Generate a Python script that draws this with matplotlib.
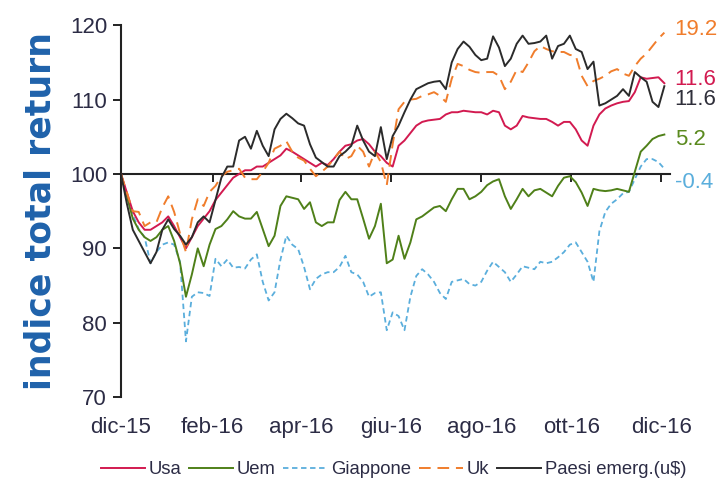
import numpy as np
import pandas as pd
import matplotlib
matplotlib.use("Agg")
import matplotlib.pyplot as plt

# Indici total return (base 100 = dic-15), un punto ogni 4 giorni
usa = [100, 97.5, 95, 93.5, 92.5, 92.5, 93, 93.5, 94.3, 93, 91.5, 90, 91.5, 93, 94, 95,
       96.5, 97.5, 98.5, 99.5, 100, 100.5, 100.5, 101, 101, 101.5, 102, 102.5, 103.4, 103,
       102.5, 102, 101.5, 101, 101.5, 101.2, 102, 103, 103.8, 104, 104.5, 104.7, 104, 103,
       102.4, 101.5, 101, 103.8, 104.5, 105.5, 106.5, 107, 107.2, 107.3, 107.4, 108, 108.3,
       108.3, 108.5, 108.4, 108.3, 108.3, 108, 108.5, 108.3, 106.5, 106, 106.5, 107.8, 107.6,
       107.5, 107.4, 107.4, 107, 106.5, 107, 107, 106, 104.5, 103.8, 106.5, 108, 108.8, 109.2,
       109.5, 109.7, 109.8, 111, 113, 112.8, 112.9, 113, 112.2]
uem = [100, 97, 94, 92.5, 91.5, 91, 91.5, 92.5, 93, 91, 88, 83.5, 86.5, 90, 87.6, 90.5,
       92.6, 93, 93.9, 95, 94.3, 94, 94, 94.9, 92.6, 90.3, 91.7, 95.7, 97, 96.8, 96.6, 95.3,
       96.2, 93.5, 93, 93.5, 93.5, 96.5, 97.6, 96.6, 96.6, 94, 91.3, 93, 96, 88, 88.5, 91.7,
       88.6, 90.8, 93.9, 94.3, 94.9, 95.5, 95.7, 95, 96.6, 98, 98, 96.6, 97, 97.6, 98.5, 99,
       99.3, 97, 95.3, 96.6, 98, 97, 97.8, 98, 97.5, 97, 98.4, 99.5, 99.7, 98.9, 97.5, 95.7,
       98, 97.8, 97.7, 97.8, 98, 97.8, 97.6, 100.3, 103, 103.8, 104.7, 105.1, 105.3]
giappone = [100, 97, 94.5, 92.6, 91.5, 88, 89.5, 90.5, 90.8, 90.5, 88.2, 77.5, 83.5, 84.1,
            84, 83.6, 88.6, 87.6, 88.5, 87.4, 87.5, 87.3, 88.5, 89.2, 85.5, 83, 84.1, 88.5,
            91.7, 90.5, 89.9, 87.5, 84.5, 85.9, 86.5, 86.8, 86.8, 87.5, 89, 86.8, 86.5, 85.5,
            83.5, 84, 84.1, 79, 81.4, 80.9, 79, 83.5, 86.3, 87.2, 86.5, 85.5, 84, 83.2, 85.5,
            85.7, 85.9, 85.2, 85, 85.5, 87, 88.2, 87.5, 86.8, 85.5, 86.5, 87.6, 87.4, 87.2,
            88.2, 88, 88.2, 88.8, 89.5, 90.5, 90.8, 89.5, 88.2, 85.5, 92.3, 94.9, 96, 96.6,
            97.4, 97.6, 99.3, 101, 102, 102, 101.6, 100.7]
uk = [100, 97.5, 95, 94.9, 93, 93.5, 93.5, 95.5, 97, 94.9, 92, 89.5, 93.9, 96.6, 95.7, 97.6,
      98.4, 99.7, 100.3, 100.5, 100.7, 99.5, 99.3, 99.3, 100.3, 101.5, 103.4, 103.8, 104.4,
      103, 102.2, 101.8, 100.7, 99.7, 100.3, 101, 102, 103, 102, 102.4, 103.8, 103, 101, 103,
      101.6, 98.5, 104, 108.7, 109.7, 110, 110.1, 110.5, 110.7, 111, 110.5, 109.7, 112.8,
      114.8, 114.5, 114, 113.7, 113.6, 113.7, 113.7, 113.2, 111.4, 112.4, 114, 113.7, 115,
      116.5, 117.2, 116.8, 116.5, 116.4, 116.4, 116, 115.9, 113.2, 111.8, 112.5, 112.8, 113.2,
      113.8, 114.1, 113.5, 113.2, 114.5, 115.5, 116.2, 117.2, 118.2, 119]
paesi_emerg = [100, 96, 92.5, 91, 89.5, 88, 89.5, 92.5, 93.9, 92.6, 91.7, 90.5, 91.5, 93.5,
               94.3, 93.5, 96.5, 99.5, 101, 101, 104.5, 105, 103.4, 105.8, 103.8, 102.4, 106,
               107.4, 108.1, 107.5, 106.8, 106.5, 104, 102.2, 101.6, 101, 101, 102.4, 103,
               103.8, 106.5, 104.5, 103, 102.4, 106.3, 102, 105.1, 106.5, 108.3, 110, 111.4,
               111.8, 112.2, 112.4, 112.5, 111.4, 115, 116.8, 117.8, 117.1, 116, 115.3, 115.5,
               118.5, 117, 114.5, 115.5, 117.5, 118.6, 117.5, 117.6, 117.8, 118.6, 115.5, 117.2,
               117.5, 118.6, 116.8, 116.4, 114.1, 115.1, 109.2, 109.5, 110, 110.5, 111.4, 110.5,
               113.7, 113, 112.4, 109.7, 109, 111.8]

dates = pd.date_range("2015-12-01", periods=len(usa), freq="4D")

tick_dates = pd.to_datetime(["2015-12-01", "2016-02-01", "2016-04-01", "2016-06-01",
                             "2016-08-01", "2016-10-01", "2016-12-01"])
tick_labels = ["dic-15", "feb-16", "apr-16", "giu-16", "ago-16", "ott-16", "dic-16"]

end_labels = ["19.2", "11.6", "11.6", "5.2", "-0.4"]
end_label_y = [119.4, 112.7, 110.0, 104.7, 98.9]
end_label_colors = ["#f07d2c", "#d21a50", "#2f2f3a", "#5a8a1e", "#5aaedc"]

TXT = "#2c2c45"
plt.rcParams["font.family"] = ["Liberation Sans", "DejaVu Sans"]

fig = plt.figure(figsize=(7.18, 4.94), dpi=100)
ax = fig.add_axes([0.1685, 0.196, 0.765, 0.753])

ax.plot(dates, giappone, color="#5aaedc", lw=1.3, dashes=(3, 2), label="Giappone", zorder=2)
ax.plot(dates, uem, color="#4f8019", lw=1.4, label="Uem", zorder=3)
ax.plot(dates, usa, color="#d21a50", lw=1.4, label="Usa", zorder=3)
ax.plot(dates, uk, color="#f07d2c", lw=1.4, dashes=(6, 3.5), label="Uk", zorder=4)
ax.plot(dates, paesi_emerg, color="#2b2b2b", lw=1.4, label="Paesi emerg.(u\\$)", zorder=5)

ax.set_ylim(70, 120)
ax.set_xlim(pd.Timestamp("2015-12-01"), pd.Timestamp("2016-12-07"))
ax.set_yticks([70, 80, 90, 100, 110, 120])
ax.tick_params(axis="y", direction="out", length=6, width=1.4, colors="#222222",
               labelcolor=TXT, labelsize=16, pad=4)

for s in ["top", "right"]:
    ax.spines[s].set_visible(False)
ax.spines["left"].set_linewidth(1.5)
ax.spines["left"].set_color("#222222")
ax.spines["bottom"].set_position(("data", 100))
ax.spines["bottom"].set_linewidth(1.5)
ax.spines["bottom"].set_color("#222222")

ax.set_xticks(tick_dates)
ax.tick_params(axis="x", direction="out", length=6, width=1.4, colors="#222222",
               labelbottom=False)

# etichette mesi in fondo al grafico
sec = ax.secondary_xaxis("bottom")
sec.set_xticks(tick_dates)
sec.set_xticklabels(tick_labels)
sec.spines["bottom"].set_visible(False)
sec.tick_params(axis="x", length=0, pad=14, labelsize=16, labelcolor=TXT)

ax.set_ylabel("indice total return", fontsize=25, fontweight="bold", color="#1f62ab",
              family=["DejaVu Sans"], labelpad=9)

# valori finali a destra
for lab, yv, c in zip(end_labels, end_label_y, end_label_colors):
    ax.text(1.008, yv, lab, transform=ax.get_yaxis_transform(), color=c, fontsize=16,
            va="center", ha="left", clip_on=False)

handles, labels = ax.get_legend_handles_labels()
order = [2, 1, 0, 3, 4]
fig.legend([handles[i] for i in order], [labels[i] for i in order],
           loc="center", bbox_to_anchor=(0.548, 0.049), ncol=5, frameon=False,
           fontsize=13.3, handlelength=2.4, handletextpad=0.2, columnspacing=0.4,
           labelcolor=TXT)

fig.savefig("out.png", dpi=100)
